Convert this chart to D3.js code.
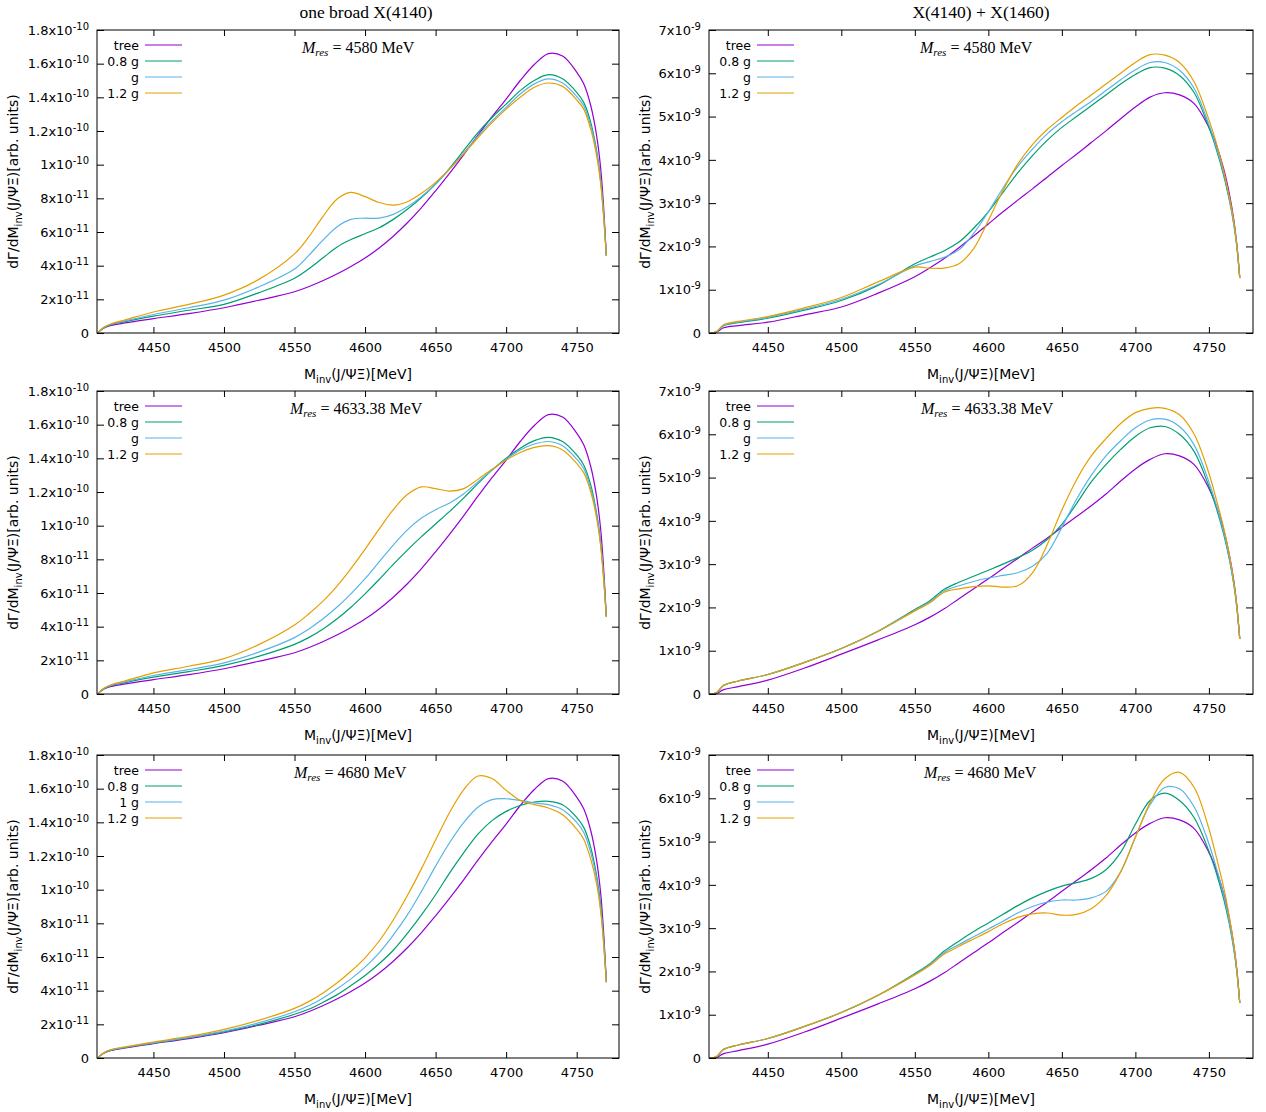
<!DOCTYPE html>
<html>
<head>
<meta charset="utf-8">
<script src="https://cdn.jsdelivr.net/npm/d3@7"></script>
<style>
  body { margin: 0; background: #fff; }
  svg { font-family: "DejaVu Sans", sans-serif; }
</style>
</head>
<body>
<svg id="chart" width="1266" height="1112"></svg>
<script>
// invariant mass grid (MeV)
const mass = [4411, 4415, 4420, 4430, 4450, 4475, 4500, 4525, 4550, 4560, 4570, 4580, 4590, 4600,
  4610, 4620, 4630, 4640, 4650, 4660, 4670, 4680, 4690, 4700, 4710, 4720, 4730, 4740, 4750,
  4755, 4760, 4764, 4767, 4769, 4771];

const seriesNames = ["tree", "0.8 g", "g", "1.2 g"];
const seriesNamesBL = ["tree", "0.8 g", "1 g", "1.2 g"];
const colors = ["#9400d3", "#009e73", "#56b4e9", "#e69f00"];

// left column, in units of 1e-11
const treeLeft = [0.05, 0.3, 0.45, 0.6, 0.85, 1.15, 1.5, 1.95, 2.45, 2.75, 3.1, 3.5, 3.95, 4.45, 5.05, 5.75, 6.55, 7.45, 8.45, 9.5, 10.6, 11.75, 12.85, 13.9, 15.0, 15.95, 16.6, 16.45, 15.5, 14.8, 13.5, 11.8, 9.8, 7.6, 4.6];

const tlGreen = [0.05, 0.32, 0.5, 0.68, 1.0, 1.35, 1.7, 2.4, 3.25, 3.8, 4.45, 5.1, 5.55, 5.9, 6.25, 6.75, 7.35, 8.05, 8.85, 9.8, 10.85, 11.9, 12.8, 13.6, 14.4, 15.0, 15.35, 15.1, 14.3, 13.7, 12.5, 10.9, 9.1, 7.2, 4.6];
const tlCyan = [0.05, 0.33, 0.52, 0.72, 1.1, 1.5, 1.95, 2.75, 3.8, 4.6, 5.5, 6.3, 6.75, 6.82, 6.82, 7.05, 7.5, 8.1, 8.85, 9.75, 10.7, 11.7, 12.6, 13.4, 14.2, 14.8, 15.1, 14.85, 14.05, 13.5, 12.3, 10.8, 9.0, 7.1, 4.6];
const tlOrange = [0.05, 0.35, 0.55, 0.78, 1.25, 1.7, 2.25, 3.2, 4.7, 5.7, 6.9, 7.95, 8.35, 8.1, 7.75, 7.6, 7.8, 8.3, 8.95, 9.75, 10.65, 11.6, 12.5, 13.3, 14.0, 14.6, 14.85, 14.65, 13.85, 13.3, 12.1, 10.6, 8.9, 7.0, 4.6];

const mlGreen = [0.05, 0.32, 0.5, 0.68, 1.0, 1.33, 1.7, 2.25, 2.95, 3.35, 3.85, 4.45, 5.15, 5.95, 6.8, 7.7, 8.55, 9.35, 10.1, 10.85, 11.65, 12.5, 13.3, 14.0, 14.6, 15.05, 15.25, 15.0, 14.2, 13.6, 12.4, 10.8, 9.0, 7.1, 4.6];
const mlCyan = [0.05, 0.33, 0.52, 0.72, 1.1, 1.45, 1.85, 2.5, 3.35, 3.85, 4.45, 5.15, 5.95, 6.85, 7.85, 8.85, 9.75, 10.45, 10.95, 11.35, 11.9, 12.6, 13.3, 13.95, 14.5, 14.85, 15.0, 14.75, 13.95, 13.4, 12.2, 10.7, 8.9, 7.0, 4.6];
const mlOrange = [0.05, 0.35, 0.55, 0.78, 1.25, 1.65, 2.1, 2.95, 4.1, 4.75, 5.5, 6.4, 7.45, 8.6, 9.8, 10.95, 11.85, 12.3, 12.2, 12.05, 12.2, 12.75, 13.35, 13.9, 14.35, 14.65, 14.75, 14.5, 13.7, 13.15, 12.0, 10.5, 8.8, 6.95, 4.6];

const blGreen = [0.05, 0.3, 0.47, 0.62, 0.88, 1.2, 1.55, 2.0, 2.6, 2.9, 3.3, 3.75, 4.3, 4.9, 5.6, 6.4, 7.4, 8.5, 9.7, 11.0, 12.2, 13.3, 14.1, 14.65, 15.0, 15.2, 15.25, 15.05, 14.3, 13.7, 12.5, 10.9, 9.1, 7.2, 4.5];
const blCyan = [0.05, 0.31, 0.48, 0.64, 0.9, 1.22, 1.6, 2.1, 2.75, 3.1, 3.55, 4.1, 4.7, 5.4, 6.25, 7.3, 8.5, 9.9, 11.4, 12.8, 14.0, 14.9, 15.35, 15.4, 15.3, 15.15, 15.05, 14.75, 14.0, 13.4, 12.2, 10.7, 8.9, 7.0, 4.5];
const blOrange = [0.05, 0.32, 0.5, 0.66, 0.95, 1.28, 1.7, 2.25, 2.95, 3.35, 3.85, 4.45, 5.15, 5.95, 6.95, 8.2, 9.65, 11.25, 12.95, 14.6, 15.95, 16.75, 16.6, 15.9, 15.3, 15.05, 14.85, 14.45, 13.6, 13.0, 11.8, 10.4, 8.7, 6.9, 4.5];

// right column, in units of 1e-9
const treeTR = [0.0, 0.02, 0.12, 0.17, 0.25, 0.42, 0.6, 0.92, 1.3, 1.5, 1.72, 1.97, 2.24, 2.52, 2.8, 3.07, 3.33, 3.6, 3.87, 4.13, 4.4, 4.67, 4.95, 5.22, 5.45, 5.55, 5.5, 5.3, 4.75, 4.35, 3.8, 3.2, 2.6, 2.05, 1.27];
const treeLow = [0.0, 0.01, 0.1, 0.17, 0.32, 0.6, 0.92, 1.25, 1.6, 1.77, 1.97, 2.2, 2.43, 2.66, 2.9, 3.13, 3.37, 3.6, 3.85, 4.1, 4.35, 4.62, 4.92, 5.2, 5.42, 5.55, 5.5, 5.3, 4.75, 4.35, 3.8, 3.2, 2.6, 2.05, 1.27];

const trGreen = [0.0, 0.03, 0.17, 0.24, 0.34, 0.53, 0.75, 1.1, 1.6, 1.75, 1.9, 2.1, 2.42, 2.8, 3.25, 3.7, 4.1, 4.45, 4.75, 5.0, 5.25, 5.5, 5.75, 5.97, 6.13, 6.12, 5.95, 5.55, 4.75, 4.25, 3.65, 3.05, 2.5, 2.0, 1.27];
const trCyan = [0.0, 0.03, 0.18, 0.25, 0.36, 0.55, 0.78, 1.12, 1.55, 1.65, 1.75, 1.92, 2.3, 2.8, 3.35, 3.85, 4.25, 4.6, 4.88, 5.12, 5.35, 5.6, 5.85, 6.08, 6.25, 6.25, 6.07, 5.65, 4.82, 4.3, 3.7, 3.1, 2.52, 2.0, 1.27];
const trOrange = [0.0, 0.03, 0.19, 0.27, 0.38, 0.58, 0.82, 1.18, 1.52, 1.5, 1.5, 1.6, 1.95, 2.6, 3.3, 3.9, 4.35, 4.7, 4.98, 5.25, 5.5, 5.75, 6.0, 6.25, 6.43, 6.42, 6.25, 5.8, 4.93, 4.4, 3.75, 3.12, 2.55, 2.02, 1.27];

const mrGreen = [0.0, 0.03, 0.2, 0.3, 0.45, 0.73, 1.05, 1.45, 1.95, 2.15, 2.42, 2.58, 2.72, 2.86, 3.0, 3.15, 3.32, 3.57, 3.92, 4.4, 4.9, 5.3, 5.65, 5.95, 6.15, 6.18, 6.0, 5.6, 4.8, 4.3, 3.7, 3.1, 2.52, 2.0, 1.27];
const mrCyan = [0.0, 0.03, 0.2, 0.3, 0.45, 0.73, 1.05, 1.45, 1.93, 2.12, 2.38, 2.5, 2.6, 2.68, 2.74, 2.8, 2.95, 3.25, 3.85, 4.5, 5.05, 5.5, 5.85, 6.15, 6.33, 6.35, 6.18, 5.75, 4.9, 4.37, 3.75, 3.12, 2.53, 2.0, 1.27];
const mrOrange = [0.0, 0.03, 0.2, 0.3, 0.45, 0.73, 1.05, 1.45, 1.92, 2.1, 2.35, 2.43, 2.48, 2.5, 2.47, 2.5, 2.8, 3.45, 4.25, 4.95, 5.5, 5.9, 6.25, 6.5, 6.6, 6.6, 6.45, 6.0, 5.1, 4.5, 3.85, 3.2, 2.58, 2.03, 1.27];

const brGreen = [0.0, 0.03, 0.2, 0.3, 0.45, 0.73, 1.05, 1.45, 1.95, 2.17, 2.47, 2.7, 2.92, 3.12, 3.32, 3.52, 3.7, 3.85, 3.97, 4.05, 4.15, 4.35, 4.75, 5.4, 5.95, 6.12, 5.95, 5.55, 4.78, 4.28, 3.68, 3.08, 2.5, 2.0, 1.27];
const brCyan = [0.0, 0.03, 0.2, 0.3, 0.45, 0.73, 1.05, 1.45, 1.93, 2.15, 2.43, 2.62, 2.8, 2.98, 3.16, 3.35, 3.5, 3.6, 3.65, 3.65, 3.7, 3.85, 4.3, 5.1, 5.85, 6.25, 6.22, 5.8, 4.95, 4.4, 3.78, 3.13, 2.53, 2.0, 1.27];
const brOrange = [0.0, 0.03, 0.2, 0.3, 0.45, 0.73, 1.05, 1.45, 1.92, 2.13, 2.4, 2.58, 2.75, 2.92, 3.1, 3.25, 3.33, 3.35, 3.3, 3.32, 3.45, 3.75, 4.3, 5.1, 5.9, 6.45, 6.6, 6.25, 5.3, 4.65, 3.95, 3.25, 2.6, 2.03, 1.27];

const xTicks = [4450, 4500, 4550, 4600, 4650, 4700, 4750];
const yTicksLeft = [0, 2, 4, 6, 8, 10, 12, 14, 16, 18];   // x 1e-11
const yTicksRight = [0, 1, 2, 3, 4, 5, 6, 7];            // x 1e-9
const titles = ["one broad X(4140)", "X(4140) + X(1460)"];
const mresLabels = ["4580", "4633.38", "4680"];

const svg = d3.select("#chart");

const cols = [
  { x0: 97, x1: 619, ticks: yTicksLeft, ymax: 18, label: leftLabel, titleX: 366, ylabX: 13 },
  { x0: 709, x1: 1253, ticks: yTicksRight, ymax: 7, label: rightLabel, titleX: 981, ylabX: 645 }
];
const rows = [{ y0: 30, y1: 333 }, { y0: 391, y1: 694 }, { y0: 755, y1: 1058 }];
const annX = [[302, 920], [290, 921], [294, 924]];

const panels = [
  { r: 0, c: 0, data: [treeLeft, tlGreen, tlCyan, tlOrange], names: seriesNames },
  { r: 0, c: 1, data: [treeTR, trGreen, trCyan, trOrange], names: seriesNames },
  { r: 1, c: 0, data: [treeLeft, mlGreen, mlCyan, mlOrange], names: seriesNames },
  { r: 1, c: 1, data: [treeLow, mrGreen, mrCyan, mrOrange], names: seriesNames },
  { r: 2, c: 0, data: [treeLeft, blGreen, blCyan, blOrange], names: seriesNamesBL },
  { r: 2, c: 1, data: [treeLow, brGreen, brCyan, brOrange], names: seriesNames }
];

function leftLabel(v) {
  if (v === 0) return ["0", ""];
  if (v < 10) return [v + "x10", "-11"];
  return [(v / 10) + "x10", "-10"];
}
function rightLabel(v) {
  if (v === 0) return ["0", ""];
  return [v + "x10", "-9"];
}

// titles
cols.forEach((c, i) => {
  svg.append("text")
    .attr("x", c.titleX).attr("y", 18)
    .attr("text-anchor", "middle")
    .style("font-family", "'Liberation Serif', serif")
    .style("font-size", "17.5px")
    .text(titles[i]);
});

panels.forEach(p => {
  const col = cols[p.c], row = rows[p.r];
  const x = d3.scaleLinear().domain([4410, 4780]).range([col.x0, col.x1]);
  const y = d3.scaleLinear().domain([0, col.ymax]).range([row.y1, row.y0]);
  const g = svg.append("g");

  // curves
  const line = d3.line()
    .x((d, i) => x(mass[i]))
    .y(d => y(d))
    .curve(d3.curveCatmullRom.alpha(0.5));
  p.data.forEach((vals, k) => {
    g.append("path")
      .datum(vals)
      .attr("fill", "none")
      .attr("stroke", colors[k])
      .attr("stroke-width", 1.2)
      .attr("d", line);
  });

  // axes (inward ticks, mirrored)
  const bottom = g.append("g").attr("transform", `translate(0,${row.y1})`)
    .call(d3.axisBottom(x).tickValues(xTicks).tickSize(-6).tickPadding(10).tickFormat(d3.format("d")));
  g.append("g").attr("transform", `translate(0,${row.y0})`)
    .call(d3.axisTop(x).tickValues(xTicks).tickSize(-6).tickFormat(""));
  const left = g.append("g").attr("transform", `translate(${col.x0},0)`)
    .call(d3.axisLeft(y).tickValues(col.ticks).tickSize(-7).tickPadding(8).tickFormat(""));
  g.append("g").attr("transform", `translate(${col.x1},0)`)
    .call(d3.axisRight(y).tickValues(col.ticks).tickSize(-7).tickFormat(""));

  g.selectAll(".domain").remove();
  g.selectAll(".tick line").attr("stroke", "#000");
  bottom.selectAll("text").style("font-size", "13px").style("font-family", "'DejaVu Sans', sans-serif").attr("fill", "#000");

  left.selectAll(".tick text").each(function (d) {
    const [base, sup] = col.label(d);
    const t = d3.select(this).style("font-size", "13px").style("font-family", "'DejaVu Sans', sans-serif").attr("fill", "#000");
    t.append("tspan").text(base);
    if (sup) t.append("tspan").attr("dy", "-5").style("font-size", "10px").text(sup);
  });

  // frame
  g.append("rect")
    .attr("x", col.x0).attr("y", row.y0)
    .attr("width", col.x1 - col.x0).attr("height", row.y1 - row.y0)
    .attr("fill", "none").attr("stroke", "#000").attr("stroke-width", 1);

  // legend
  p.names.forEach((nm, k) => {
    const ly = row.y0 + 15 + k * 16;
    g.append("text")
      .attr("x", col.x0 + 42).attr("y", ly + 4.5)
      .attr("text-anchor", "end")
      .style("font-size", "12.5px")
      .text(nm);
    g.append("line")
      .attr("x1", col.x0 + 48).attr("x2", col.x0 + 85)
      .attr("y1", ly).attr("y2", ly)
      .attr("stroke", colors[k]).attr("stroke-width", 1.2);
  });

  // M_res annotation
  const ann = g.append("text")
    .attr("x", annX[p.r][p.c]).attr("y", row.y0 + 23)
    .style("font-family", "'Liberation Serif', serif")
    .style("font-size", "16px");
  ann.append("tspan").style("font-style", "italic").text("M");
  ann.append("tspan").attr("dy", 3).style("font-style", "italic").style("font-size", "11px").text("res");
  ann.append("tspan").attr("dy", -3).text(" = " + mresLabels[p.r] + " MeV");

  // axis labels
  const xl = g.append("text")
    .attr("x", (col.x0 + col.x1) / 2).attr("y", row.y1 + 46)
    .attr("text-anchor", "middle")
    .style("font-size", "14px");
  xl.append("tspan").text("M");
  xl.append("tspan").attr("dy", 4).style("font-size", "10px").text("inv");
  xl.append("tspan").attr("dy", -4).text("(J/ΨΞ)[MeV]");

  const cy = (row.y0 + row.y1) / 2;
  const yl = g.append("text")
    .attr("transform", `translate(${col.ylabX + 5},${cy}) rotate(-90)`)
    .attr("text-anchor", "middle")
    .style("font-size", "14px");
  yl.append("tspan").text("dΓ/dM");
  yl.append("tspan").attr("dy", 4).style("font-size", "10px").text("inv");
  yl.append("tspan").attr("dy", -4).text("(J/ΨΞ)[arb. units)");
});
</script>
</body>
</html>
